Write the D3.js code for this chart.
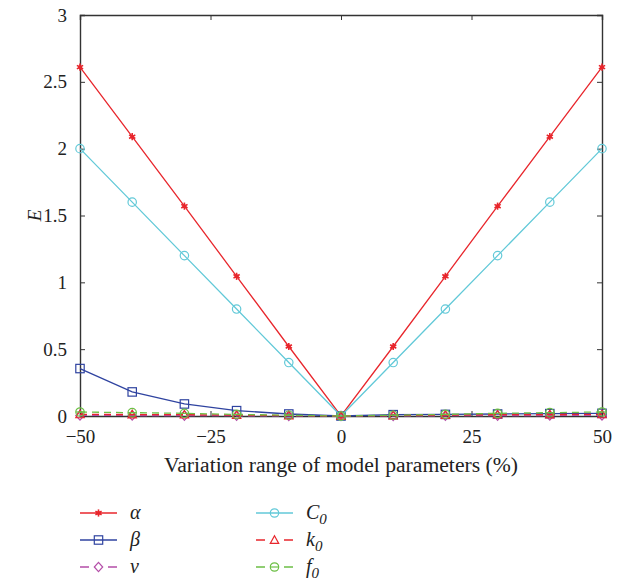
<!DOCTYPE html>
<html>
<head>
<meta charset="utf-8">
<script src="https://cdn.jsdelivr.net/npm/d3@7"></script>
<style>
  body { margin: 0; background: #fff; }
  text { font-family: "Liberation Serif", "Times New Roman", serif; fill: #222; }
</style>
</head>
<body>
<script>
// x values (%), shared by every series
const xs = [-50, -40, -30, -20, -10, 0, 10, 20, 30, 40, 50];

const alpha = [2.61, 2.09, 1.57, 1.045, 0.52, 0, 0.52, 1.045, 1.57, 2.09, 2.61];
const beta  = [0.355, 0.18, 0.09, 0.04, 0.015, 0, 0.01, 0.012, 0.015, 0.018, 0.02];
const nu    = [0.004, 0.004, 0.003, 0.002, 0.001, 0, 0.001, 0.002, 0.003, 0.004, 0.004];
const c0    = [2.0, 1.6, 1.2, 0.8, 0.4, 0, 0.4, 0.8, 1.2, 1.6, 2.0];
const k0    = [0.012, 0.011, 0.01, 0.007, 0.004, 0, 0.004, 0.007, 0.01, 0.011, 0.012];
const f0    = [0.03, 0.025, 0.02, 0.012, 0.006, 0, 0.006, 0.012, 0.02, 0.025, 0.03];

const xTicks = [-50, -25, 0, 25, 50];
const yTicks = [0, 0.5, 1, 1.5, 2, 2.5, 3];

const series = [
  {name: "α", sub: "", values: alpha, color: "#e8262c", marker: "star", dash: null},
  {name: "β", sub: "", values: beta, color: "#2f43a0", marker: "square", dash: null},
  {name: "ν", sub: "", values: nu, color: "#b44ea8", marker: "diamond", dash: "7,5"},
  {name: "C", sub: "0", values: c0, color: "#62c9d8", marker: "circle", dash: null},
  {name: "k", sub: "0", values: k0, color: "#e8262c", marker: "triangle", dash: "7,5"},
  {name: "f", sub: "0", values: f0, color: "#6cbf45", marker: "thetacircle", dash: "7,5"}
];

const width = 625, height = 581;
const plot = {left: 80, right: 602, top: 15, bottom: 416};

const svg = d3.select("body").append("svg")
  .attr("width", width)
  .attr("height", height);

const x = d3.scaleLinear().domain([-50, 50]).range([plot.left, plot.right]);
const y = d3.scaleLinear().domain([0, 3]).range([plot.bottom, plot.top]);

// axes with inward ticks, mirrored
const axisG = svg.append("g");
axisG.append("g")
  .attr("transform", "translate(0," + plot.bottom + ")")
  .call(d3.axisBottom(x).tickValues(xTicks).tickSize(-5).tickPadding(14).tickFormat(d => d < 0 ? "\u2212" + Math.abs(d) : d));
axisG.append("g")
  .attr("transform", "translate(0," + plot.top + ")")
  .call(d3.axisTop(x).tickValues(xTicks).tickSize(-5).tickFormat(""));
axisG.append("g")
  .attr("transform", "translate(" + plot.left + ",0)")
  .call(d3.axisLeft(y).tickValues(yTicks).tickSize(-5).tickPadding(13).tickFormat(d3.format("")));
axisG.append("g")
  .attr("transform", "translate(" + plot.right + ",0)")
  .call(d3.axisRight(y).tickValues(yTicks).tickSize(-5).tickFormat(""));

axisG.selectAll(".domain").attr("stroke", "#333").attr("stroke-width", 1.4);
axisG.selectAll(".tick line").attr("stroke", "#333");
axisG.selectAll(".tick text")
  .attr("font-family", "Liberation Serif, serif")
  .attr("font-size", 19)
  .attr("fill", "#222");

// axis titles
svg.append("text")
  .attr("x", x(0))
  .attr("y", 472)
  .attr("text-anchor", "middle")
  .attr("font-size", 20)
  .attr("textLength", 354)
  .attr("lengthAdjust", "spacingAndGlyphs")
  .text("Variation range of model parameters (%)");

svg.append("text")
  .attr("transform", "translate(41," + y(1.5) + ") rotate(-90)")
  .attr("text-anchor", "middle")
  .attr("font-size", 19)
  .attr("font-style", "italic")
  .text("E");

function drawMarker(g, type, color, cx, cy) {
  const s = 4.2;
  if (type === "star") {
    const r = 3.6;
    for (let a = 0; a < 3; a++) {
      const ang = a * Math.PI / 3 + Math.PI / 2;
      g.append("line")
        .attr("x1", cx - r * Math.cos(ang)).attr("y1", cy - r * Math.sin(ang))
        .attr("x2", cx + r * Math.cos(ang)).attr("y2", cy + r * Math.sin(ang))
        .attr("stroke", color).attr("stroke-width", 1.6);
    }
    g.append("circle").attr("cx", cx).attr("cy", cy).attr("r", 2).attr("fill", color);
  } else if (type === "square") {
    g.append("rect").attr("x", cx - s).attr("y", cy - s).attr("width", 2 * s).attr("height", 2 * s)
      .attr("fill", "none").attr("stroke", color).attr("stroke-width", 1.2);
  } else if (type === "diamond") {
    g.append("path").attr("d", `M${cx},${cy - s - 0.5}L${cx + s},${cy}L${cx},${cy + s + 0.5}L${cx - s},${cy}Z`)
      .attr("fill", "none").attr("stroke", color).attr("stroke-width", 1.2);
  } else if (type === "circle") {
    g.append("circle").attr("cx", cx).attr("cy", cy).attr("r", s)
      .attr("fill", "none").attr("stroke", color).attr("stroke-width", 1.2);
  } else if (type === "triangle") {
    g.append("path").attr("d", `M${cx},${cy - s}L${cx + s},${cy + s * 0.8}L${cx - s},${cy + s * 0.8}Z`)
      .attr("fill", "none").attr("stroke", color).attr("stroke-width", 1.2);
  } else if (type === "thetacircle") {
    g.append("circle").attr("cx", cx).attr("cy", cy).attr("r", s)
      .attr("fill", "none").attr("stroke", color).attr("stroke-width", 1.2);
    g.append("line").attr("x1", cx - s).attr("x2", cx + s).attr("y1", cy).attr("y2", cy)
      .attr("stroke", color).attr("stroke-width", 1.2);
  }
}

const line = d3.line().x((d, i) => x(xs[i])).y(d => y(d));

const marks = svg.append("g");
series.forEach(s => {
  const g = marks.append("g");
  g.append("path")
    .datum(s.values)
    .attr("d", line)
    .attr("fill", "none")
    .attr("stroke", s.color)
    .attr("stroke-width", 1.3)
    .attr("stroke-dasharray", s.dash);
  s.values.forEach((v, i) => drawMarker(g, s.marker, s.color, x(xs[i]), y(v)));
});

// legend
const legend = svg.append("g");
const rowY = [513, 540, 567];
const colX = [80, 256];
series.forEach((s, i) => {
  const col = Math.floor(i / 3), row = i % 3;
  const lx = colX[col], ly = rowY[row];
  const g = legend.append("g");
  g.append("line")
    .attr("x1", lx).attr("x2", lx + 37).attr("y1", ly).attr("y2", ly)
    .attr("stroke", s.color).attr("stroke-width", 1.3)
    .attr("stroke-dasharray", s.dash ? "9,19,9" : null);
  drawMarker(g, s.marker, s.color, lx + 18.5, ly);
  const t = g.append("text")
    .attr("x", lx + 50)
    .attr("y", ly + 6)
    .attr("font-size", 20)
    .attr("font-style", "italic")
    .text(s.name);
  if (s.sub) {
    t.append("tspan").attr("dy", 5).attr("font-size", 15).text(s.sub);
  }
});
</script>
</body>
</html>
